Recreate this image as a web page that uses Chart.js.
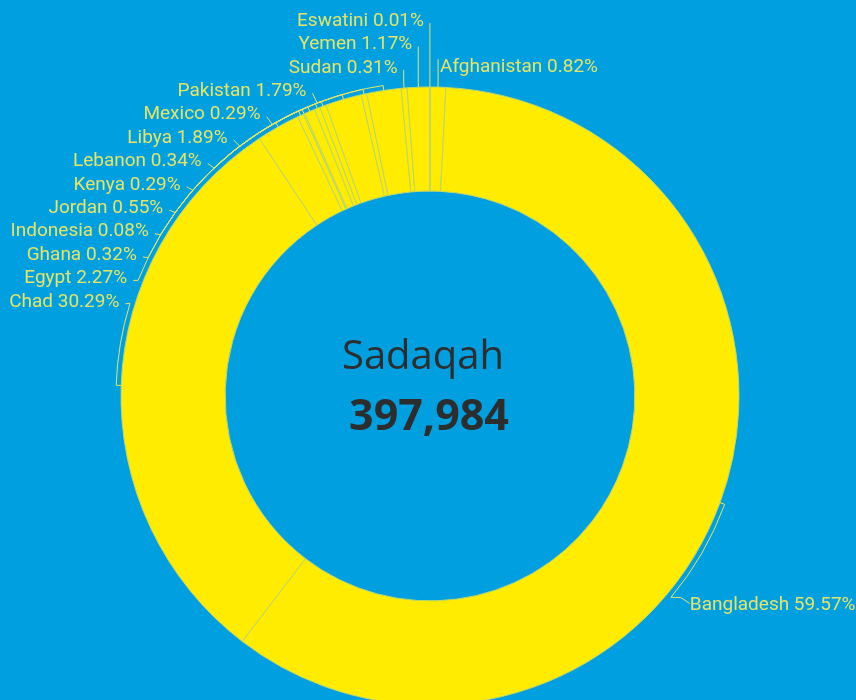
<!DOCTYPE html>
<html><head><meta charset="utf-8">
<script src="https://cdn.jsdelivr.net/npm/chart.js@4.4.0/dist/chart.umd.min.js"></script>
<style>
html,body{margin:0;padding:0;background:#009fdf;overflow:hidden;width:856px;height:700px}
#wrap{position:relative;width:856px;height:700px}
</style></head><body>
<div id="wrap"><canvas id="c" width="856" height="700"></canvas></div>
<script>
const categories = ['Afghanistan','Bangladesh','Chad','Egypt','Ghana','Indonesia','Jordan','Kenya','Lebanon','Libya','Mexico','Pakistan','Sudan','Yemen','Eswatini'];
const shares = [0.82,59.57,30.29,2.27,0.32,0.08,0.55,0.29,0.34,1.89,0.29,1.79,0.31,1.17,0.01];
const centerTitle = 'Sadaqah';
const centerTotal = '397,984';

const LABEL_COLOR = '#e6e466';

const outLabels = {
  id: 'outLabels',
  afterDatasetsDraw(chart, args, o) {
    const meta = chart.getDatasetMeta(0);
    const arcs = meta.data;
    if (!arcs.length) return;
    const ctx = chart.ctx;
    const cx = arcs[0].x, cy = arcs[0].y, R = arcs[0].outerRadius;
    const items = arcs.map((arc, i) => {
      const mid = (arc.startAngle + arc.endAngle) / 2;
      const ux = Math.cos(mid), uy = Math.sin(mid);
      return {
        i, mid, ux, uy,
        left: ux < 0,
        ny: cy + (R + o.labelDist) * uy,
        p1x: cx + (R + o.elbow) * ux,
        text: categories[i] + ' ' + shares[i].toFixed(2) + '%'
      };
    });
    const left = items.filter(d => d.left).sort((a, b) => a.ny - b.ny);
    const right = items.filter(d => !d.left).sort((a, b) => a.ny - b.ny);
    left.forEach((d, k) => { d.y = o.top + k * o.spacing; });
    right.forEach(d => { d.y = d.ny + (o.shift[categories[d.i]] || 0); });
    const ellX = (y, rA) => {
      const dy = y - cy;
      const t = 1 - (dy * dy) / (o.rB * o.rB);
      return t > 0 ? rA * Math.sqrt(t) : 0;
    };
    left.forEach(d => {
      const ex = ellX(d.y, o.rA);
      d.ax = ex > 0 ? cx - ex : d.p1x;
      d.tx = d.ax - o.gap;
    });
    right.forEach(d => {
      const ex = ellX(d.y, o.rARight);
      d.ax = ex > 0 ? cx + ex : d.p1x;
      d.tx = d.ax + (ex > 0 ? o.gapRight : 2);
    });

    ctx.save();
    ctx.strokeStyle = LABEL_COLOR;
    ctx.fillStyle = LABEL_COLOR;
    ctx.lineWidth = 1;
    ctx.font = o.font;
    ctx.textBaseline = 'middle';
    const rr = R + o.elbow;
    items.forEach(d => {
      ctx.beginPath();
      ctx.moveTo(cx + R * d.ux, cy + R * d.uy);
      ctx.lineTo(cx + rr * d.ux, cy + rr * d.uy);
      const angA = Math.atan2(d.y - cy, d.ax - cx);
      let diff = angA - d.mid;
      while (diff > Math.PI) diff -= 2 * Math.PI;
      while (diff < -Math.PI) diff += 2 * Math.PI;
      if (Math.abs(diff) > 0.01) ctx.arc(cx, cy, rr, d.mid, d.mid + diff, diff < 0);
      ctx.lineTo(d.ax, d.y + (d.left ? o.lineDy : -o.lineDy * 4));
      if (!d.left && d.tx - d.ax > 4) ctx.lineTo(d.tx, d.y - o.lineDy);
      ctx.stroke();
      ctx.textAlign = d.left ? 'right' : 'left';
      ctx.fillText(d.text, d.tx, d.y);
    });
    ctx.restore();
  }
};

const centerText = {
  id: 'centerText',
  afterDraw(chart) {
    const arc = chart.getDatasetMeta(0).data[0];
    if (!arc) return;
    const ctx = chart.ctx;
    ctx.save();
    ctx.fillStyle = '#2d2d2d';
    ctx.textAlign = 'center';
    ctx.textBaseline = 'alphabetic';
    ctx.font = '40px "Open Sans"';
    ctx.fillText(centerTitle, arc.x - 7, arc.y - 27);
    ctx.font = 'bold 43px "Open Sans"';
    ctx.fillText(centerTotal, arc.x - 1, arc.y + 34);
    ctx.restore();
  }
};

new Chart(document.getElementById('c'), {
  type: 'doughnut',
  data: {
    labels: categories,
    datasets: [{
      data: shares,
      backgroundColor: '#ffec00',
      borderColor: '#bcd66f',
      borderWidth: 1,
      hoverOffset: 0,
      radius: 309,
      cutout: '66.3%',
      rotation: 0
    }]
  },
  options: {
    responsive: false,
    animation: false,
    layout: { padding: { top: 92, left: 4, right: 0, bottom: 0 } },
    plugins: {
      legend: { display: false },
      tooltip: { enabled: false },
      outLabels: {
        font: '19px Roboto',
        labelDist: 20,
        elbow: 5,
        top: 21,
        spacing: 23.4,
        rA: 318,
        rARight: 326,
        rB: 328,
        gap: 6,
        gapRight: 9,
        lineDy: 2,
        shift: { Bangladesh: 96 }
      }
    }
  },
  plugins: [outLabels, centerText]
});
</script>
</body></html>
